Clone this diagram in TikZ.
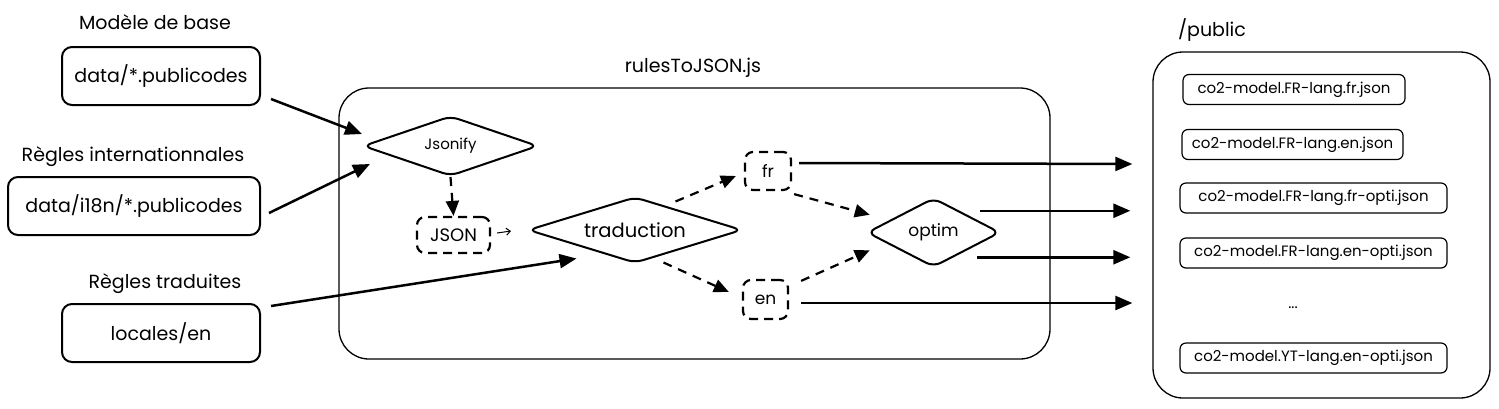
\documentclass[tikz,border=0pt]{standalone}
\usepackage{fontspec}
\setmainfont{Poppins}
\usetikzlibrary{shapes.geometric,arrows.meta,calc}
\begin{document}
\begin{tikzpicture}[x=1pt,y=-1pt,
  lbl/.style={font=\fontsize{19}{22}\selectfont, inner sep=0pt},
  inbox/.style={draw, line width=2pt, rounded corners=10pt, minimum width=198pt, minimum height=58pt, font=\fontsize{19}{22}\selectfont},
  dia/.style={diamond, draw, line width=2pt, rounded corners=8pt, inner sep=0pt, font=\fontsize{16}{20}\selectfont},
  dbox/.style={draw, line width=2.2pt, dash pattern=on 9pt off 6pt, rounded corners=8pt, inner sep=0pt, font=\fontsize{17}{20}\selectfont},
  outbox/.style={draw, line width=1.2pt, rounded corners=6pt, minimum height=30pt, inner sep=0pt, font=\fontsize{15}{17}\selectfont},
  cont/.style={draw, line width=1.3pt, rounded corners=30pt},
  arr/.style={line width=2.5pt, -{Triangle[length=17pt,width=14pt]}},
  darr/.style={line width=2.2pt, dash pattern=on 9pt off 7pt, -{Triangle[length=15pt,width=13pt]}},
  sarr/.style={line width=1pt, -{Straight Barb[length=4pt,width=7pt]}}
]
\useasboundingbox (0,0) rectangle (1499,408);
% labels
\node[lbl] (lbase) at (155,22) {Modèle de base};
\node[lbl] (li18n) at (133,157) {Règles internationnales};
\node[lbl] (ltrad) at (165,284) {Règles traduites};
\node[lbl] (lrules) at (693,68) {rulesToJSON.js};
\node[lbl] (lpub) at (1212,30) {/public};
% containers
\node[cont, minimum width=711pt, minimum height=271pt] (rules) at (694.5,223.5) {};
\node[cont, minimum width=337pt, minimum height=346pt] (public) at (1321.5,225) {};
% inputs
\node[inbox] (base) at (161,76) {data/*.publicodes};
\node[inbox, minimum width=252pt] (i18n) at (134,206) {data/i18n/*.publicodes};
\node[inbox] (loc) at (161,333) {locales/en};
% process
\node[dia, aspect=2.9, minimum width=175pt, minimum height=60pt, font=\fontsize{15}{18}\selectfont] (jsonify) at (450.5,146) {Jsonify};
\node[dbox, minimum width=73pt, minimum height=36pt, font=\fontsize{18}{20}\selectfont] (json) at (453.5,235) {JSON};
\node[dia, aspect=3.2, minimum width=214pt, minimum height=66pt, font=\fontsize{19.5}{22}\selectfont] (trad) at (635,230) {traduction};
\node[dbox, minimum width=46pt, minimum height=38pt] (fr) at (768,171) {fr};
\node[dbox, minimum width=45pt, minimum height=39pt] (en) at (765.5,299.5) {en};
\node[dia, aspect=1.9, minimum width=133pt, minimum height=69pt, font=\fontsize{17}{20}\selectfont] (optim) at (933.5,232.5) {optim};
% outputs
\node[outbox, minimum width=222pt] (o1) at (1294,89.5) {co2-model.FR-lang.fr.json};
\node[outbox, minimum width=221pt] (o2) at (1292.5,144.5) {co2-model.FR-lang.en.json};
\node[outbox, minimum width=267pt] (o3) at (1313.5,198) {co2-model.FR-lang.fr-opti.json};
\node[outbox, minimum width=267pt] (o4) at (1313.5,253) {co2-model.FR-lang.en-opti.json};
\node[font=\fontsize{15}{16}\selectfont] (dots) at (1293,308) {...};
\node[outbox, minimum width=267pt] (o5) at (1313.5,358) {co2-model.YT-lang.en-opti.json};
% connectors
\draw[arr] ($(base.south east)+(10,-7)$) -- ($(jsonify.west)+(0,-12)$);
\draw[arr] ($(i18n.east)+(8,7)$) -- ($(jsonify.west)+(8,18)$);
\draw[arr] ($(loc.north east)+(10,3)$) -- ($(trad.south west)+(-4.5,11.5)$);
\draw[darr] (jsonify.south) -- (json.north);
\draw[sarr] ($(json.east)+(6,-2)$) -- ($(trad.west)+(-16,1)$);
\draw[darr] ($(trad.north east)+(-13.5,-11.5)$) -- ($(fr.west)+(-8,5)$);
\draw[darr] ($(trad.south east)+(-25.5,15.5)$) -- ($(en.west)+(-13,-7.5)$);
\draw[darr] ($(fr.south east)+(2,3)$) -- ($(optim.north west)+(-30,0)$);
\draw[darr] ($(en.north east)+(12,2)$) -- ($(optim.south west)+(-30,0)$);
\draw[arr] ($(fr.east)+(7,-8)$) -- ($(fr.east -| public.west)+(-20,-7)$);
\draw[arr] ($(optim.north east)+(13,-4)$) -- ($(optim.north east -| public.west)+(-22,-4)$);
\draw[arr] ($(optim.south east)+(10,7)$) -- ($(optim.south east -| public.west)+(-22,7)$);
\draw[arr] ($(en.east)+(12,3.5)$) -- ($(en.east -| public.west)+(-20,3.5)$);
\end{tikzpicture}
\end{document}
